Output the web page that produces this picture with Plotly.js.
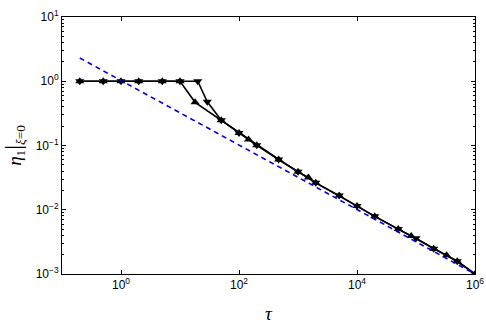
<!DOCTYPE html>
<html>
<head>
<meta charset="utf-8">
<script src="https://cdn.plot.ly/plotly-3.0.1.min.js"></script>
<style>html,body{margin:0;padding:0;background:#fff;}#chart{width:486px;height:324px;}</style>
</head>
<body>
<div id="chart"></div>
<script>
// Series with upward-triangle markers
const xUp = [0.2, 0.5, 1, 2, 5, 10, 18, 50, 100, 145, 200, 470, 1000, 1500, 2000, 5000, 1e4, 2e4, 5e4, 8.3e4, 2e5, 3.3e5, 5e5, 1e6];
const yUp = [1, 1, 1, 1, 1, 1, 0.47, 0.247, 0.157, 0.124, 0.101, 0.0606, 0.0389, 0.0318, 0.0262, 0.0166, 0.0114, 0.0079, 0.0050, 0.0039, 0.00248, 0.00195, 0.00158, 0.001];
// Series with downward-triangle markers
const xDown = [0.2, 0.5, 1, 2, 5, 10, 20, 29, 50, 100, 200, 470, 1000, 2000, 5000, 1e4, 2e4, 5e4, 1e5, 2e5, 5e5, 1e6];
const yDown = [1, 1, 1, 1, 1, 1, 1, 0.48, 0.247, 0.157, 0.101, 0.0606, 0.0389, 0.0262, 0.0166, 0.0114, 0.0079, 0.0050, 0.0036, 0.00248, 0.00158, 0.001];
// Reference dashed line
const xRef = [0.2, 1e6];
const yRef = [2.3, 0.001];
// Tick labels
const xTickVals = [1, 100, 1e4, 1e6];
const xTickText = ['10<sup>0</sup>', '10<sup>2</sup>', '10<sup>4</sup>', '10<sup>6</sup>'];
const yTickVals = [1e-3, 1e-2, 1e-1, 1, 10];
const yTickText = ['10<sup>−3</sup>', '10<sup>−2</sup>', '10<sup>−1</sup>', '10<sup>0</sup>', '10<sup>1</sup>'];

const traces = [
  {x: xUp, y: yUp, type: 'scatter', mode: 'lines+markers',
   line: {color: '#000', width: 1.6},
   marker: {symbol: 'triangle-up', size: 8, color: '#000'}},
  {x: xDown, y: yDown, type: 'scatter', mode: 'lines+markers',
   line: {color: '#000', width: 1.6},
   marker: {symbol: 'triangle-down', size: 8, color: '#000'}},
  {x: xRef, y: yRef, type: 'scatter', mode: 'lines',
   line: {color: '#0000e0', width: 1.6, dash: '5px,4px'}}
];

const axisCommon = {
  type: 'log', showgrid: false, zeroline: false,
  showline: true, linecolor: '#000', linewidth: 1, mirror: 'ticks',
  ticks: 'inside', ticklen: 4, tickcolor: '#000',
  tickfont: {family: 'Liberation Sans, Arial, sans-serif', size: 12, color: '#000'}
};

const layout = {
  width: 486, height: 324,
  margin: {l: 62, r: 11, t: 17, b: 50},
  paper_bgcolor: '#fff', plot_bgcolor: '#fff',
  showlegend: false,
  xaxis: Object.assign({}, axisCommon, {
    range: [-1, 6], tickvals: xTickVals, ticktext: xTickText,
    title: {text: '<i>τ</i>', font: {family: 'Liberation Serif, serif', size: 19, color: '#000'}, standoff: 18}
  }),
  yaxis: Object.assign({}, axisCommon, {
    range: [-3, 1], tickvals: yTickVals, ticktext: yTickText,
    minor: {ticks: 'inside', ticklen: 2, tickcolor: '#000', dtick: 'D1', showgrid: false},
    title: {text: '<i>η</i><sub>1</sub><span style="font-size:24px">|</span><sub><i>ξ</i>=0</sub>', font: {family: 'Liberation Serif, serif', size: 19, color: '#000'}, standoff: 10}
  })
};

Plotly.newPlot('chart', traces, layout, {staticPlot: true, displayModeBar: false});
</script>
</body>
</html>
